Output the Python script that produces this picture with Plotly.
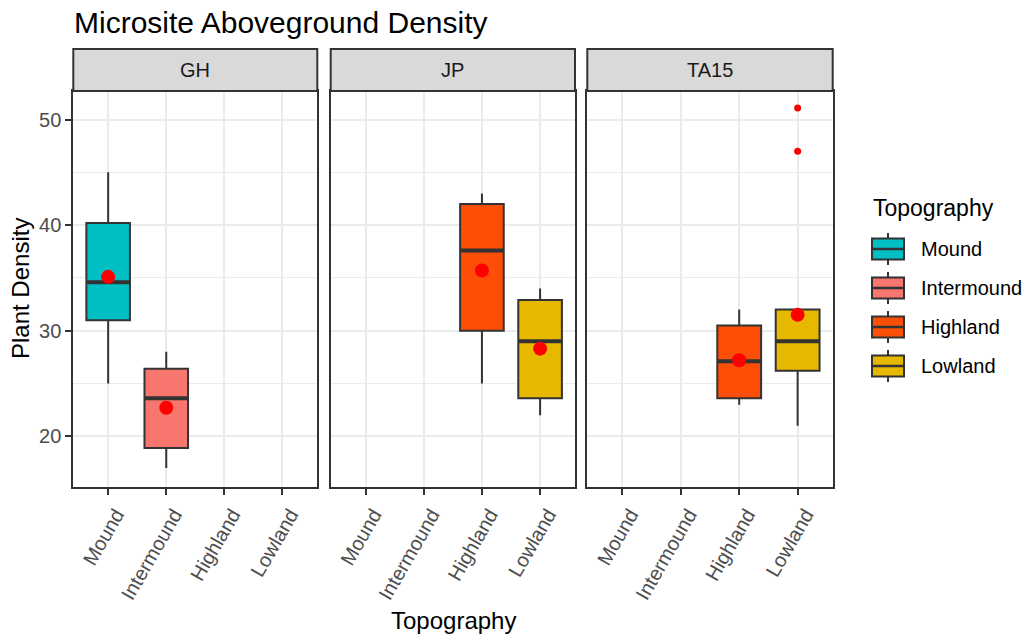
import plotly.graph_objects as go

# ---------------- data ----------------
sites = ["GH", "JP", "TA15"]
categories = ["Mound", "Intermound", "Highland", "Lowland"]
colors = {"Mound": "#00BFC4", "Intermound": "#F8766D", "Highland": "#FC4E07", "Lowland": "#E7B800"}

# per site: category -> (lower whisker, q1, median, q3, upper whisker)
stats = {
    "GH": {
        "Mound": (25.0, 31.0, 34.6, 40.2, 45.0),
        "Intermound": (17.0, 18.9, 23.6, 26.4, 28.0),
    },
    "JP": {
        "Highland": (25.0, 30.0, 37.6, 42.0, 43.0),
        "Lowland": (22.0, 23.6, 29.0, 32.9, 34.0),
    },
    "TA15": {
        "Highland": (23.0, 23.6, 27.1, 30.5, 32.0),
        "Lowland": (21.0, 26.2, 29.0, 32.0, 32.0),
    },
}
means = {
    "GH": {"Mound": 35.1, "Intermound": 22.7},
    "JP": {"Highland": 35.7, "Lowland": 28.3},
    "TA15": {"Highland": 27.2, "Lowland": 31.5},
}
outliers = {"TA15": {"Lowland": [51.1, 47.0]}}

y_ticks = [20, 30, 40, 50]

# ---------------- layout constants ----------------
W, H = 1031, 637
BOX_W = 0.75
panel_x = [(73.3, 317.3), (330.7, 575.0), (587.3, 832.7)]
panel_y = (91.0, 487.0)
strip_top = 49.0
px = lambda v: v / W
py = lambda v: 1 - v / H

dark = "#333333"
fig = go.Figure()

for k, site in enumerate(sites):
    sfx = "" if k == 0 else str(k + 1)
    xa, ya = "x" + sfx, "y" + sfx
    for cat, (lo, q1, med, q3, hi) in stats[site].items():
        i = categories.index(cat)
        fig.add_trace(go.Box(
            x=[i], q1=[q1], median=[med], q3=[q3], lowerfence=[lo], upperfence=[hi],
            width=BOX_W, whiskerwidth=0, fillcolor=colors[cat],
            line=dict(color=dark, width=2), boxpoints=False,
            xaxis=xa, yaxis=ya, showlegend=False, hoverinfo="skip",
        ))
        fig.add_trace(go.Scatter(
            x=[i - BOX_W / 2, i + BOX_W / 2], y=[med, med], mode="lines",
            line=dict(color=dark, width=4), xaxis=xa, yaxis=ya,
            showlegend=False, hoverinfo="skip",
        ))
    for cat, vals in outliers.get(site, {}).items():
        i = categories.index(cat)
        fig.add_trace(go.Scatter(
            x=[i] * len(vals), y=vals, mode="markers",
            marker=dict(color="red", size=7), xaxis=xa, yaxis=ya,
            showlegend=False, hoverinfo="skip",
        ))
    mcats = list(means[site].keys())
    fig.add_trace(go.Scatter(
        x=[categories.index(c) for c in mcats], y=[means[site][c] for c in mcats],
        mode="markers", marker=dict(color="red", size=14),
        xaxis=xa, yaxis=ya, showlegend=False, hoverinfo="skip",
    ))

yrange = [15.2, 52.7]
common_x = dict(
    range=[-0.6, 3.6], tickvals=list(range(len(categories))), ticktext=categories,
    tickangle=-60, tickfont=dict(family="Liberation Sans, Arial", size=20, color="#4D4D4D"),
    ticklabelshift=8, ticklabelstandoff=0,
    showgrid=True, gridcolor="#EBEBEB", gridwidth=2, zeroline=False,
    showline=True, mirror=True, linecolor=dark, linewidth=2,
    ticks="outside", ticklen=6, tickcolor=dark, tickwidth=2, fixedrange=True,
)
common_y = dict(
    range=yrange, tickvals=y_ticks, showgrid=True, gridcolor="#EBEBEB", gridwidth=2,
    minor=dict(dtick=5, tick0=0, showgrid=True, gridcolor="#EBEBEB", gridwidth=1, ticks=""),
    zeroline=False, showline=True, mirror=True, linecolor=dark, linewidth=2,
    ticks="outside", ticklen=6, tickcolor=dark, tickwidth=2,
    tickfont=dict(family="Liberation Sans, Arial", size=20, color="#4D4D4D"),
    domain=[py(panel_y[1]), py(panel_y[0])], fixedrange=True,
)

layout = dict(
    width=W, height=H, margin=dict(l=0, r=0, t=0, b=0),
    paper_bgcolor="white", plot_bgcolor="white", boxmode="overlay",
    showlegend=False, font=dict(family="Liberation Sans, Arial", color="black"),
)
for k in range(3):
    sfx = "" if k == 0 else str(k + 1)
    xd = dict(common_x, domain=[px(panel_x[k][0]), px(panel_x[k][1])], anchor="y" + sfx)
    yd = dict(common_y, anchor="x" + sfx)
    if k > 0:
        yd["showticklabels"] = False
        yd["ticks"] = ""
        yd["matches"] = "y"
    layout["xaxis" + sfx] = xd
    layout["yaxis" + sfx] = yd
fig.update_layout(**layout)

shapes, annotations = [], []
for k, site in enumerate(sites):
    x0, x1 = panel_x[k]
    shapes.append(dict(type="rect", xref="paper", yref="paper",
                       x0=px(x0), x1=px(x1), y0=py(panel_y[0]), y1=py(strip_top),
                       fillcolor="#D9D9D9", line=dict(color=dark, width=2), layer="above"))
    annotations.append(dict(text=site, xref="paper", yref="paper",
                            x=px((x0 + x1) / 2), y=py((strip_top + panel_y[0]) / 2),
                            showarrow=False, xanchor="center", yanchor="middle",
                            font=dict(size=20, color="#1A1A1A")))

# title and axis titles
annotations.append(dict(text="Microsite Aboveground Density", xref="paper", yref="paper",
                        x=px(72), y=py(22), xanchor="left", yanchor="middle", showarrow=False,
                        font=dict(size=30, color="black")))
annotations.append(dict(text="Plant Density", xref="paper", yref="paper",
                        x=px(20), y=py((panel_y[0] + panel_y[1]) / 2), textangle=-90,
                        xanchor="center", yanchor="middle", showarrow=False,
                        font=dict(size=24, color="black")))
annotations.append(dict(text="Topography", xref="paper", yref="paper",
                        x=px((panel_x[0][0] + panel_x[2][1]) / 2), y=py(620),
                        xanchor="center", yanchor="middle", showarrow=False,
                        font=dict(size=24, color="black")))

# legend (drawn manually, ggplot-style box keys)
annotations.append(dict(text="Topography", xref="paper", yref="paper",
                        x=px(871), y=py(208), xanchor="left", yanchor="middle", showarrow=False,
                        font=dict(size=23, color="black")))
for j, cat in enumerate(categories):
    cy = 249 + j * 39
    kx0, kx1 = 872, 904
    kxm = (kx0 + kx1) / 2
    shapes.append(dict(type="line", xref="paper", yref="paper",
                       x0=px(kxm), x1=px(kxm), y0=py(cy - 16), y1=py(cy + 16),
                       line=dict(color=dark, width=2)))
    shapes.append(dict(type="rect", xref="paper", yref="paper",
                       x0=px(kx0), x1=px(kx1), y0=py(cy + 10.5), y1=py(cy - 10.5),
                       fillcolor=colors[cat], line=dict(color=dark, width=2)))
    shapes.append(dict(type="line", xref="paper", yref="paper",
                       x0=px(kx0), x1=px(kx1), y0=py(cy), y1=py(cy),
                       line=dict(color=dark, width=2.5)))
    annotations.append(dict(text=cat, xref="paper", yref="paper",
                            x=px(919), y=py(cy), xanchor="left", yanchor="middle",
                            showarrow=False, font=dict(size=20, color="black")))

fig.update_layout(shapes=shapes, annotations=annotations)
fig.write_html("out.html")
